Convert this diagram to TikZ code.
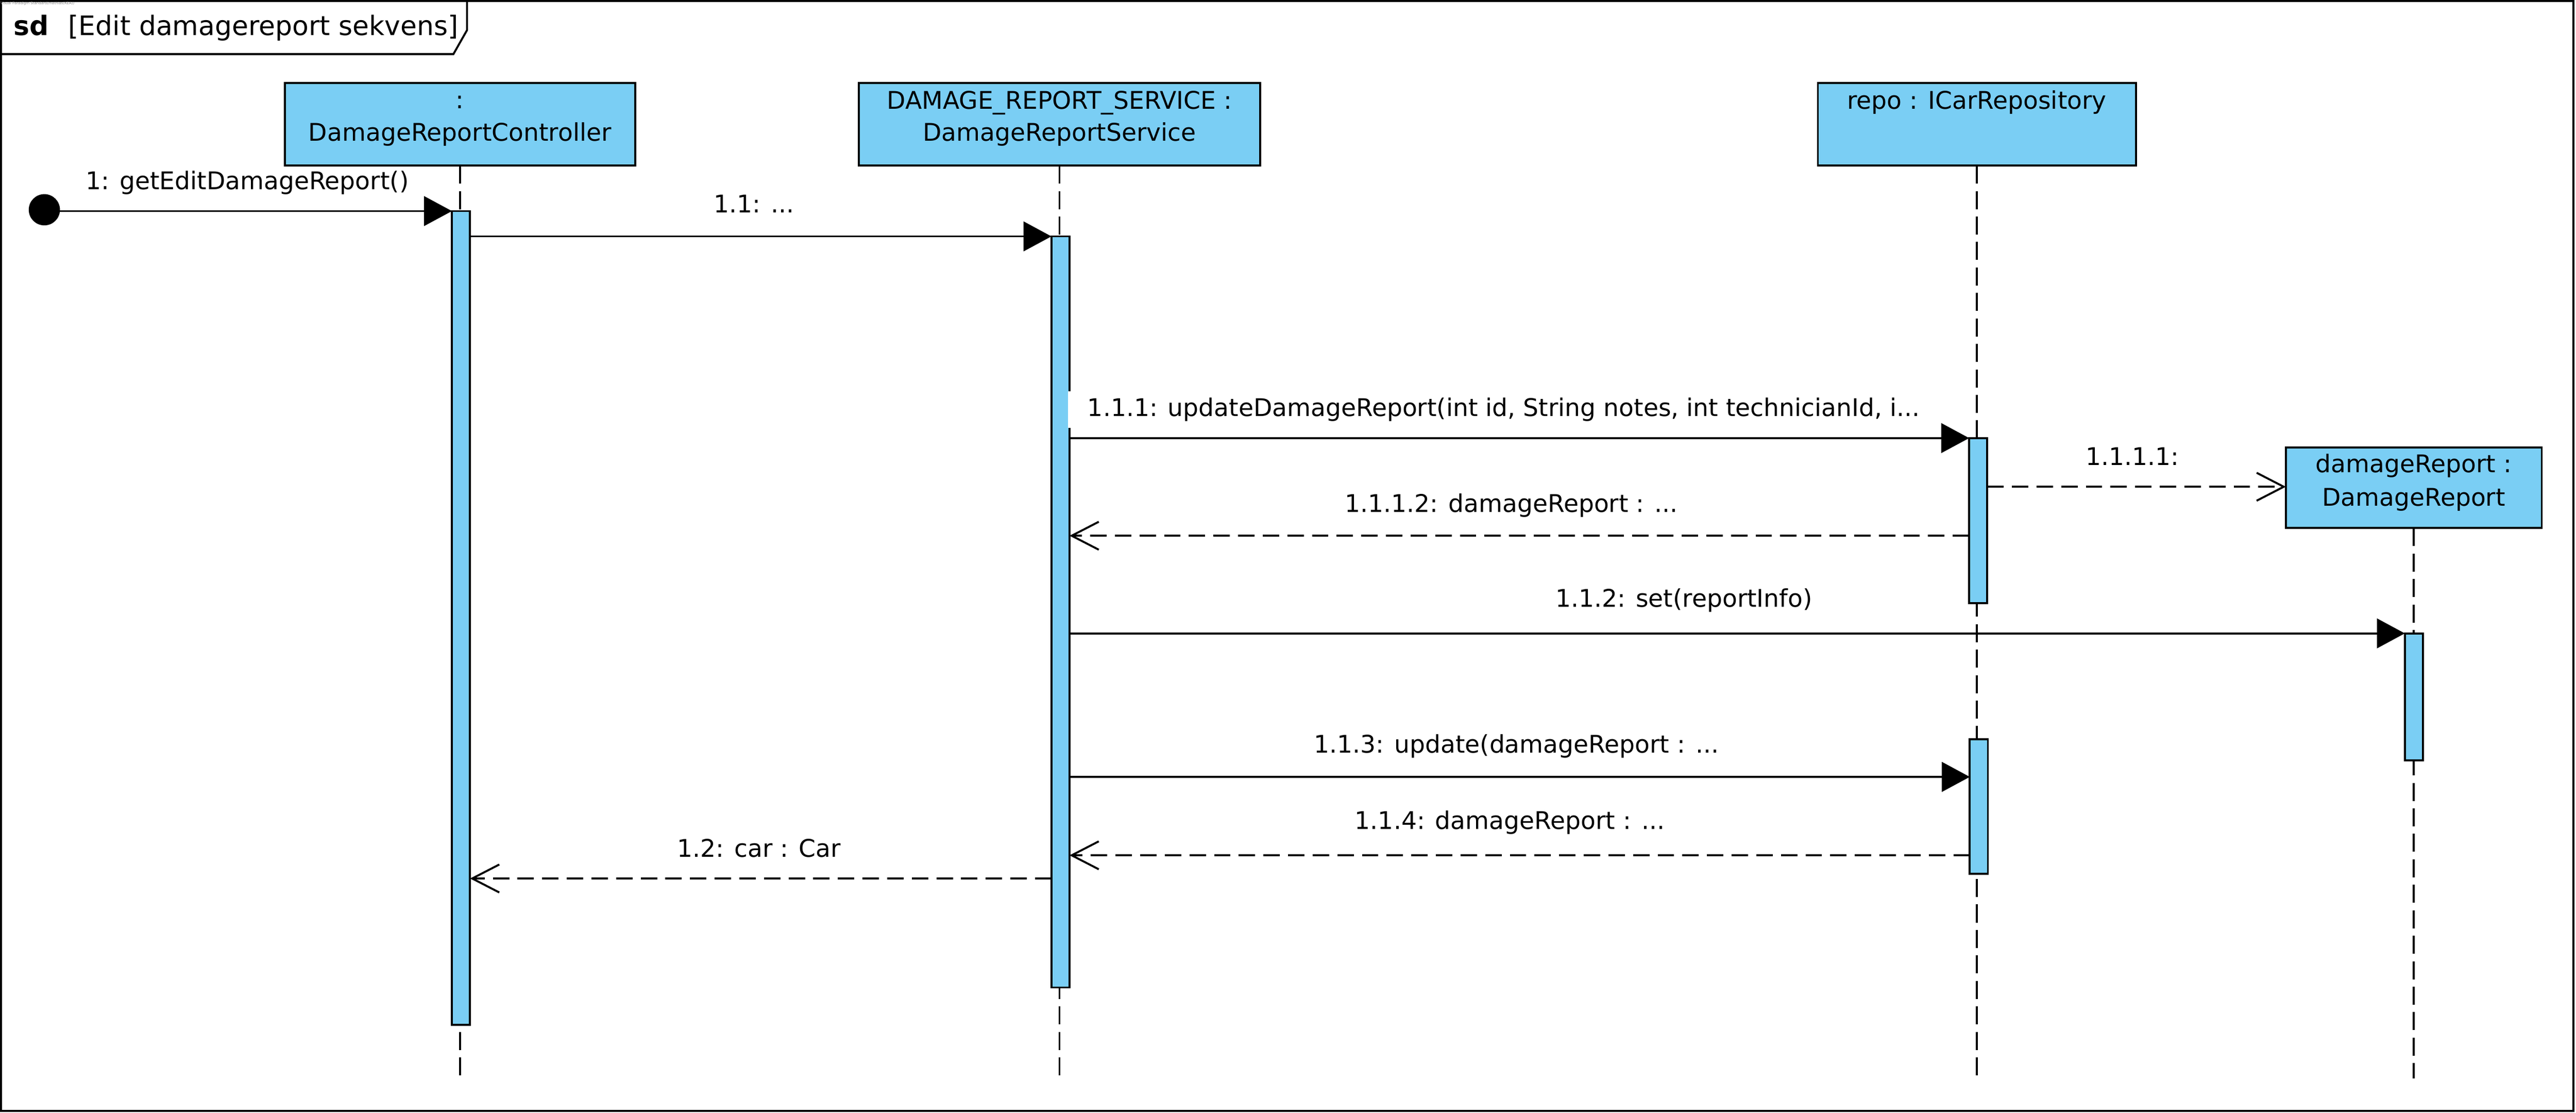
\documentclass[tikz,border=0pt]{standalone}
\usepackage{fontspec}
\setmainfont{DejaVu Sans}
\usetikzlibrary{arrows.meta}
\definecolor{lifeblue}{RGB}{122,206,244}
\tikzset{
  every node/.style={font=\fontsize{14.8}{18}\selectfont, inner sep=0pt, outer sep=0pt},
  head/.style={draw=black, line width=1.2pt, fill=lifeblue, anchor=north west},
  actbar/.style={draw=black, line width=1.2pt, fill=lifeblue, minimum width=11pt, anchor=north},
  lifeline/.style={line width=1.2pt, dash pattern=on 11pt off 4.5pt},
  call/.style={line width=1.2pt, -{Triangle[length=17pt,width=18pt]}},
  reply/.style={line width=1.2pt, dash pattern=on 10pt off 5pt, -{Straight Barb[length=16.5pt,width=17pt]}},
  lbl/.style={anchor=base},
  framepen/.style={line width=1.2pt},
}
\begin{document}
\begin{tikzpicture}[x=1pt,y=-1pt]
\useasboundingbox (0,0) rectangle (1568,676.8);
% frame
\draw[framepen] (0.7,0.7) rectangle (1566.4,675.7);
\draw[framepen] (0.7,32.9) -- (276,32.9) -- (284.3,18.3) -- (284.3,0.7);
\node[anchor=base west, font=\fontsize{2.2}{3}\selectfont, text=gray] (vp) at (0.3,2.8) {Visual Paradigm Standard(mathias(KEA))};
\node[anchor=base west, font=\fontsize{16.3}{19}\selectfont\bfseries] (sd) at (8.3,21.4) {sd};
\node[anchor=base west, font=\fontsize{16.3}{19}\selectfont] (title) at (41.6,21.4) {[Edit damagereport sekvens]};

% heads
\node[head, minimum width=213.1pt, minimum height=50.2pt] (h1) at (173.5,50.5) {};
\node[head, minimum width=244.4pt, minimum height=50.2pt] (h2) at (522.7,50.5) {};
\node[head, minimum width=193.6pt, minimum height=50.2pt] (h3) at (1106.5,50.5) {};
\node[head, minimum width=155.7pt, minimum height=49pt] (h4) at (1391.4,272.2) {};
\node[lbl] (h1a) at (280,65.9) {:};
\node[lbl] (h1b) at (280,85.8) {DamageReportController};
\node[lbl] (h2a) at (644.9,66.3) {DAMAGE\_REPORT\_SERVICE :};
\node[lbl] (h2b) at (644.9,85.8) {DamageReportService};
\node[lbl] (h3a) at (1203.3,66.3) {repo : ICarRepository};
\node[lbl] (h4a) at (1469.2,287.5) {damageReport :};
\node[lbl] (h4b) at (1469.2,307.7) {DamageReport};

% lifelines
\draw[lifeline] (h1.south) -- (h1.south |- 0,656) coordinate (l1);
\draw[lifeline] (h2.south) -- (h2.south |- 0,656) coordinate (l2);
\draw[lifeline] (h3.south) -- (h3.south |- 0,656) coordinate (l3);
\draw[lifeline] (h4.south) -- (h4.south |- 0,656) coordinate (l4);

% activation bars
\node[actbar, minimum height=495pt] (b1) at (280.6,128.4) {};
\node[actbar, minimum height=456.9pt] (b2) at (645.5,143.8) {};
\node[actbar, minimum height=100.4pt] (b3a) at (1204.1,266.5) {};
\node[actbar, minimum height=81.8pt] (b3b) at (1204.5,449.8) {};
\node[actbar, minimum height=77.3pt] (b4) at (1469.3,385.3) {};

% start
\node[circle, fill=black, minimum size=19pt] (start) at (27,127.6) {};

% messages
\draw[call] (start.east |- 0,128.4) -- (b1.west |- 0,128.4);
\node[lbl] (m1) at (150.5,115.3) {1: getEditDamageReport()};

\draw[call] (b1.east |- 0,143.8) -- (b2.west |- 0,143.8);
\node[lbl] (m11) at (459,129.4) {1.1: ...};

\draw[call] (b2.east |- 0,266.5) -- (b3a.west |- 0,266.5);
\node[anchor=base west, fill=white, inner xsep=12pt, inner ysep=4pt] (m111) at (650,253.3) {1.1.1: updateDamageReport(int id, String notes, int technicianId, i...};

\draw[reply] (b3a.east |- 0,296.1) -- (h4.west |- 0,296.1);
\node[lbl] (m1111) at (1298,282.9) {1.1.1.1:};

\draw[reply] (b3a.west |- 0,325.9) -- (b2.east |- 0,325.9);
\node[lbl] (m1112) at (920,311.6) {1.1.1.2: damageReport : ...};

\draw[call] (b2.east |- 0,385.3) -- (b4.west |- 0,385.3);
\node[lbl] (m112) at (1025,369.2) {1.1.2: set(reportInfo)};

\draw[call] (b2.east |- 0,472.6) -- (b3b.west |- 0,472.6);
\node[lbl] (m113) at (923,458) {1.1.3: update(damageReport : ...};

\draw[reply] (b3b.west |- 0,520.3) -- (b2.east |- 0,520.3);
\node[lbl] (m114) at (919,504.3) {1.1.4: damageReport : ...};

\draw[reply] (b2.west |- 0,534.4) -- (b1.east |- 0,534.4);
\node[lbl] (m12) at (462,521.2) {1.2: car : Car};
\end{tikzpicture}
\end{document}
